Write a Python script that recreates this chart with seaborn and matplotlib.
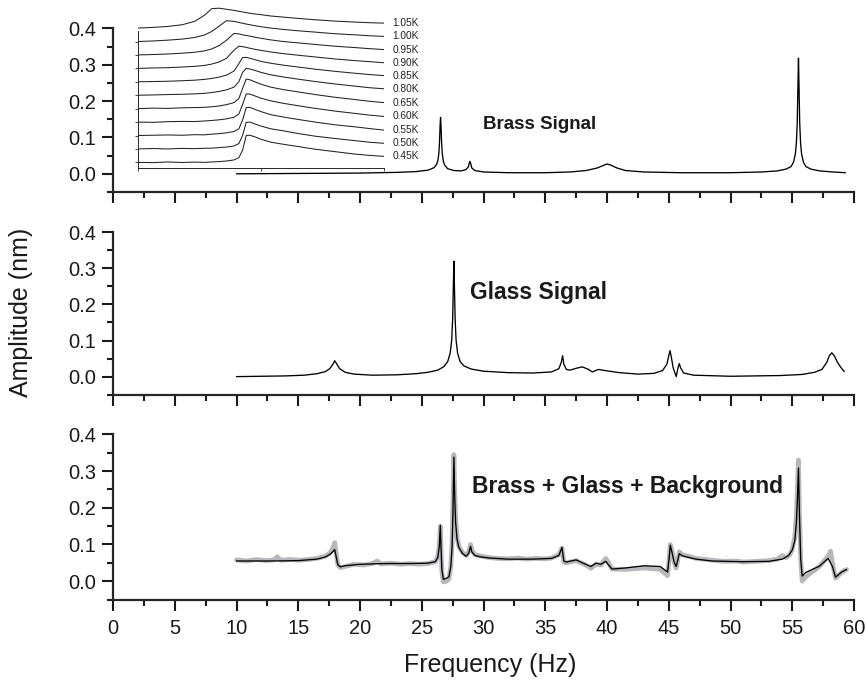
import numpy as np
import pandas as pd
import matplotlib
matplotlib.use("Agg")
import matplotlib.pyplot as plt
from matplotlib.ticker import MultipleLocator, FormatStrFormatter
import seaborn as sns

# ---------------- data ----------------
brass_freq = [10.0, 15.0, 20.0, 23.0, 24.5, 25.5, 26.0, 26.2, 26.3, 26.38, 26.44, 26.48, 26.52, 26.56,
              26.6, 26.66, 26.74, 26.85, 27.1, 27.6, 28.2, 28.6, 28.78, 28.88, 28.95, 29.05, 29.3,
              30.0, 32.0, 35.0, 37.0, 38.3, 39.2, 39.7, 40.0, 40.3, 40.8, 41.5, 43.0, 46.0, 50.0,
              52.5, 53.8, 54.5, 54.9, 55.1, 55.25, 55.33, 55.4, 55.45, 55.5, 55.55, 55.6, 55.67,
              55.75, 55.9, 56.1, 56.5, 57.2, 58.3, 59.3]
brass_amp = [0.000, 0.001, 0.002, 0.004, 0.006, 0.010, 0.017, 0.026, 0.036, 0.055, 0.090, 0.130, 0.155, 0.130,
             0.090, 0.055, 0.036, 0.024, 0.014, 0.009, 0.008, 0.012, 0.020, 0.034, 0.030, 0.016, 0.009,
             0.005, 0.003, 0.003, 0.005, 0.009, 0.016, 0.023, 0.027, 0.024, 0.016, 0.009, 0.005, 0.003, 0.003,
             0.005, 0.008, 0.013, 0.020, 0.032, 0.055, 0.085, 0.140, 0.230, 0.318, 0.230, 0.140, 0.085,
             0.055, 0.032, 0.020, 0.013, 0.008, 0.005, 0.003]

glass_freq = [10.0, 14.0, 15.5, 16.5, 17.2, 17.55, 17.8, 17.95, 18.1, 18.35, 18.8, 19.5, 21.0, 23.0,
              24.5, 25.5, 26.3, 26.8, 27.1, 27.3, 27.42, 27.5, 27.55, 27.6, 27.65, 27.7, 27.78, 27.9,
              28.1, 28.4, 29.0, 30.0, 32.0, 34.0, 35.5, 36.1, 36.3, 36.4, 36.5, 36.7, 37.0, 37.6,
              38.0, 38.5, 38.8, 39.3, 40.0, 41.0, 42.5, 43.8, 44.5, 44.85, 45.0, 45.1, 45.2, 45.35,
              45.6, 45.75, 45.85, 45.95, 46.2, 47.0, 50.0, 54.0, 55.8, 56.8, 57.4, 57.8, 58.0, 58.2,
              58.4, 58.65, 58.9, 59.2]
glass_amp = [0.000, 0.002, 0.004, 0.008, 0.014, 0.022, 0.034, 0.044, 0.036, 0.022, 0.012, 0.007, 0.004, 0.005,
             0.008, 0.012, 0.018, 0.028, 0.042, 0.065, 0.100, 0.160, 0.240, 0.320, 0.240, 0.160, 0.100, 0.065,
             0.042, 0.030, 0.021, 0.015, 0.011, 0.010, 0.013, 0.022, 0.040, 0.058, 0.035, 0.020, 0.018, 0.024,
             0.027, 0.020, 0.013, 0.020, 0.016, 0.011, 0.007, 0.009, 0.017, 0.035, 0.058, 0.072, 0.055, 0.025,
             0.000, 0.025, 0.036, 0.025, 0.010, 0.004, 0.001, 0.003, 0.006, 0.012, 0.020, 0.040, 0.058, 0.066,
             0.058, 0.040, 0.027, 0.014]

fit_freq = [10.0, 13.0, 15.0, 16.5, 17.2, 17.6, 17.85, 17.95, 18.05, 18.2, 18.4, 18.8, 20.0, 22.0,
            24.0, 25.5, 26.1, 26.3, 26.42, 26.5, 26.56, 26.63, 26.75, 27.0, 27.2, 27.35, 27.45, 27.52,
            27.6, 27.66, 27.74, 27.85, 28.0, 28.3, 28.6, 28.8, 28.95, 29.05, 29.3, 29.8, 30.5, 32.0,
            34.0, 35.5, 36.1, 36.35, 36.5, 36.7, 37.5, 38.4, 38.7, 39.1, 39.5, 39.9, 40.1, 40.4,
            41.5, 43.0, 44.3, 44.9, 45.05, 45.12, 45.25, 45.45, 45.6, 45.85, 46.1, 47.2, 48.5, 51.0,
            53.1, 54.2, 54.7, 55.0, 55.2, 55.33, 55.42, 55.5, 55.58, 55.68, 55.8, 56.1, 57.2, 57.9,
            58.25, 58.5, 59.0, 59.4]
fit_amp = [0.055, 0.055, 0.056, 0.060, 0.066, 0.074, 0.082, 0.086, 0.070, 0.045, 0.039, 0.042, 0.046, 0.048,
           0.048, 0.049, 0.053, 0.065, 0.095, 0.152, 0.090, 0.030, 0.005, 0.008, 0.012, 0.040, 0.090, 0.180,
           0.338, 0.240, 0.160, 0.115, 0.092, 0.075, 0.068, 0.076, 0.095, 0.080, 0.070, 0.066, 0.063, 0.060,
           0.060, 0.062, 0.070, 0.092, 0.055, 0.052, 0.058, 0.044, 0.040, 0.049, 0.046, 0.054, 0.045, 0.033,
           0.036, 0.042, 0.040, 0.025, 0.070, 0.098, 0.080, 0.050, 0.040, 0.075, 0.069, 0.060, 0.055, 0.053,
           0.054, 0.060, 0.070, 0.085, 0.110, 0.160, 0.230, 0.308, 0.180, 0.060, 0.014, 0.024, 0.041, 0.062,
           0.040, 0.011, 0.025, 0.032]

meas_freq = [10.0, 10.8, 11.6, 12.4, 13.0, 13.3, 13.6, 14.4, 15.2, 16.0, 16.5, 17.2, 17.6, 17.85,
             17.95, 18.05, 18.2, 18.4, 18.8, 19.5, 20.3, 21.0, 21.4, 21.7, 22.5, 23.3, 24.0, 24.8,
             25.5, 26.1, 26.3, 26.42, 26.5, 26.56, 26.63, 26.75, 27.0, 27.2, 27.35, 27.45, 27.52, 27.6,
             27.66, 27.74, 27.85, 28.0, 28.3, 28.6, 28.8, 28.95, 29.05, 29.3, 29.8, 30.5, 31.2, 32.0,
             32.8, 33.5, 34.2, 35.0, 35.5, 36.1, 36.35, 36.5, 36.7, 37.5, 38.4, 38.7, 39.1, 39.5,
             39.9, 40.1, 40.4, 41.5, 43.0, 44.3, 44.9, 45.05, 45.12, 45.25, 45.45, 45.6, 45.85, 46.1,
             46.8, 47.2, 48.0, 48.5, 49.5, 50.5, 51.0, 52.0, 53.1, 53.8, 54.2, 54.5, 54.8, 55.0,
             55.2, 55.33, 55.42, 55.5, 55.58, 55.68, 55.8, 56.1, 57.2, 57.9, 58.1, 58.25, 58.5, 59.0,
             59.4]
meas_amp = [0.058, 0.055, 0.059, 0.056, 0.058, 0.066, 0.057, 0.059, 0.057, 0.060, 0.062, 0.068, 0.078, 0.095,
            0.105, 0.080, 0.045, 0.037, 0.040, 0.046, 0.044, 0.048, 0.055, 0.047, 0.049, 0.046, 0.048, 0.046,
            0.048, 0.053, 0.068, 0.100, 0.150, 0.090, 0.025, -0.002, 0.000, 0.006, 0.040, 0.100, 0.200, 0.345,
            0.260, 0.170, 0.120, 0.095, 0.078, 0.070, 0.080, 0.100, 0.085, 0.072, 0.068, 0.064, 0.062, 0.061,
            0.063, 0.060, 0.062, 0.061, 0.063, 0.072, 0.090, 0.052, 0.050, 0.056, 0.042, 0.035, 0.046, 0.044,
            0.062, 0.052, 0.033, 0.032, 0.036, 0.032, 0.015, 0.070, 0.100, 0.085, 0.050, 0.036, 0.080, 0.072,
            0.066, 0.062, 0.059, 0.057, 0.054, 0.055, 0.052, 0.054, 0.056, 0.060, 0.070, 0.064, 0.072, 0.088,
            0.120, 0.180, 0.260, 0.330, 0.190, 0.060, 0.000, 0.012, 0.040, 0.068, 0.082, 0.050, 0.008, 0.024,
            0.032]

# inset: temperature series (x in arbitrary inset units, rise above each trace's own baseline)
inset_x = [0.0, 0.6, 1.2, 1.8, 2.3, 2.7, 3.0, 3.3, 3.6, 3.9, 4.1, 4.25, 4.4, 4.55, 4.75, 5.0,
           5.4, 5.9, 6.5, 7.2, 8.0, 8.8, 9.4, 10.0]
inset_labels = ["0.45K", "0.50K", "0.55K", "0.60K", "0.65K", "0.80K",
                "0.85K", "0.90K", "0.95K", "1.00K", "1.05K"]
rise_045 = [0, -0.02, 0.03, -0.01, 0.02, 0.0, 0.03, 0.06, 0.10, 0.18, 0.35, 0.90, 2.00, 2.02, 1.90, 1.72,
            1.50, 1.35, 1.18, 0.98, 0.80, 0.62, 0.52, 0.45]
rise_050 = [0, 0.03, 0.0, 0.04, 0.02, 0.05, 0.06, 0.10, 0.14, 0.22, 0.40, 1.00, 1.98, 2.00, 1.86, 1.70,
            1.50, 1.35, 1.15, 0.95, 0.78, 0.62, 0.50, 0.42]
rise_055 = [0, 0.02, 0.04, 0.02, 0.06, 0.05, 0.10, 0.14, 0.20, 0.30, 0.50, 1.15, 2.08, 2.10, 1.95, 1.78,
            1.55, 1.38, 1.20, 1.00, 0.80, 0.65, 0.52, 0.40]
rise_060 = [0, -0.02, 0.03, 0.05, 0.04, 0.08, 0.12, 0.17, 0.24, 0.36, 0.60, 1.30, 2.10, 2.08, 1.95, 1.78,
            1.58, 1.40, 1.22, 1.02, 0.82, 0.65, 0.52, 0.42]
rise_065 = [0, 0.04, 0.02, 0.06, 0.08, 0.10, 0.14, 0.20, 0.30, 0.45, 0.75, 1.50, 2.20, 2.15, 2.00, 1.82,
            1.60, 1.42, 1.25, 1.05, 0.85, 0.68, 0.55, 0.45]
rise_080 = [0, 0.02, 0.05, 0.07, 0.10, 0.14, 0.20, 0.28, 0.40, 0.60, 1.00, 1.70, 2.00, 1.95, 1.85, 1.70,
            1.52, 1.36, 1.20, 1.02, 0.84, 0.68, 0.56, 0.48]
rise_085 = [0, 0.02, 0.04, 0.08, 0.12, 0.18, 0.25, 0.35, 0.50, 0.80, 1.35, 1.80, 1.82, 1.75, 1.65, 1.52,
            1.38, 1.24, 1.10, 0.94, 0.78, 0.64, 0.54, 0.46]
rise_090 = [0, 0.03, 0.05, 0.10, 0.15, 0.22, 0.32, 0.48, 0.75, 1.35, 1.65, 1.62, 1.56, 1.50, 1.42, 1.34,
            1.22, 1.10, 0.98, 0.85, 0.70, 0.58, 0.50, 0.42]
rise_095 = [0, 0.03, 0.07, 0.13, 0.20, 0.30, 0.45, 0.70, 1.10, 1.60, 1.57, 1.50, 1.45, 1.40, 1.32, 1.24,
            1.12, 1.00, 0.90, 0.78, 0.65, 0.55, 0.47, 0.40]
rise_100 = [0, 0.04, 0.10, 0.18, 0.30, 0.48, 0.75, 1.15, 1.55, 1.50, 1.42, 1.36, 1.30, 1.25, 1.18, 1.10,
            1.00, 0.90, 0.80, 0.70, 0.58, 0.50, 0.43, 0.38]
rise_105 = [0, 0.05, 0.12, 0.25, 0.50, 0.95, 1.45, 1.48, 1.40, 1.32, 1.25, 1.20, 1.15, 1.10, 1.05, 1.00,
            0.90, 0.82, 0.72, 0.62, 0.52, 0.45, 0.40, 0.37]
inset_rises = [rise_045, rise_050, rise_055, rise_060, rise_065, rise_080,
               rise_085, rise_090, rise_095, rise_100, rise_105]

x_major = [0, 5, 10, 15, 20, 25, 30, 35, 40, 45, 50, 55, 60]

# ---------------- style ----------------
sns.set_style("ticks")
plt.rcParams['font.family'] = ['Liberation Sans', 'DejaVu Sans']
plt.rcParams['axes.linewidth'] = 1.6

fig = plt.figure(figsize=(8.66, 6.84), dpi=100)
positions = [(0.1305, 0.7193, 0.8557, 0.2393),
             (0.1305, 0.4230, 0.8557, 0.2374),
             (0.1305, 0.1235, 0.8557, 0.2415)]
axes = [fig.add_axes(p) for p in positions]

df_brass = pd.DataFrame({"f": brass_freq, "a": brass_amp})
df_glass = pd.DataFrame({"f": glass_freq, "a": glass_amp})
df_fit = pd.DataFrame({"f": fit_freq, "a": fit_amp})
df_meas = pd.DataFrame({"f": meas_freq, "a": meas_amp})

sns.lineplot(data=df_brass, x="f", y="a", ax=axes[0], color="black", lw=0.95, estimator=None)
sns.lineplot(data=df_glass, x="f", y="a", ax=axes[1], color="black", lw=0.95, estimator=None)
sns.lineplot(data=df_meas, x="f", y="a", ax=axes[2], color="#b8b8bc", lw=3.4, estimator=None,
             solid_capstyle="round", solid_joinstyle="round")
sns.lineplot(data=df_fit, x="f", y="a", ax=axes[2], color="black", lw=0.95, estimator=None)

for i, ax in enumerate(axes):
    ax.set_xlim(0, 60)
    ax.set_ylim(-0.05, 0.4)
    ax.set_facecolor("none")
    sns.despine(ax=ax)
    ax.spines['left'].set_bounds(-0.05, 0.4)
    ax.xaxis.set_major_locator(MultipleLocator(5))
    ax.xaxis.set_minor_locator(MultipleLocator(2.5))
    ax.yaxis.set_major_locator(MultipleLocator(0.1))
    ax.yaxis.set_minor_locator(MultipleLocator(0.05))
    ax.set_yticks([0.0, 0.1, 0.2, 0.3, 0.4])
    ax.yaxis.set_major_formatter(FormatStrFormatter('%.1f'))
    ax.tick_params(which='major', direction='out', length=8, width=1.5, labelsize=14.5,
                   colors='#1a1a1a', pad=4)
    ax.tick_params(which='minor', direction='out', length=4.5, width=1.5, colors='#1a1a1a')
    ax.set_xlabel("")
    ax.set_ylabel("")
    if i < 2:
        ax.tick_params(axis='x', labelbottom=False)
    else:
        ax.set_xticks(x_major)
        ax.tick_params(axis='x', pad=6)

axes[0].text(29.95, 0.135, "Brass Signal", fontsize=13.5, fontweight='bold', va='center', ha='left',
             color='#1a1a1a')
axes[1].text(28.9, 0.233, "Glass Signal", fontsize=16.5, fontweight='bold', va='center', ha='left',
             color='#1a1a1a')
axes[2].text(29.05, 0.258, "Brass + Glass + Background", fontsize=16.5, fontweight='bold',
             va='center', ha='left', color='#1a1a1a')

fig.text(21 / 866, 1 - 312 / 684, "Amplitude (nm)", rotation=90, fontsize=18, va='center',
         ha='center', color='#1a1a1a')
fig.text(490 / 866, 1 - 665 / 684, "Frequency (Hz)", fontsize=18, va='center', ha='center',
         color='#1a1a1a')

# ---------------- inset ----------------
ins = fig.add_axes((138 / 866, 1 - 168 / 684, 246 / 866, 161.4 / 684))
ins.set_facecolor("none")
frames = []
for k, (lab, rise) in enumerate(zip(inset_labels, inset_rises)):
    frames.append(pd.DataFrame({"x": inset_x, "y": [k + r for r in rise], "T": lab}))
df_ins = pd.concat(frames, ignore_index=True)
sns.lineplot(data=df_ins, x="x", y="y", units="T", estimator=None, color="#222222", lw=0.75,
             ax=ins, legend=False)
for k, lab in enumerate(inset_labels):
    ins.text(10.35, k + inset_rises[k][-1], lab, fontsize=7.3, va='center', ha='left', color='#222222')
ins.set_xlim(0, 10)
ins.set_ylim(-0.42, 11.6)
sns.despine(ax=ins)
ins.spines['left'].set_bounds(-0.42, 9.75)
ins.spines['left'].set_linewidth(0.7)
ins.spines['bottom'].set_linewidth(0.7)
ins.set_xticks([0, 5, 10])
ins.set_yticks(list(range(10)))
ins.tick_params(direction='out', length=2.5, width=0.6, labelleft=False, labelbottom=False)
ins.set_xlabel("")
ins.set_ylabel("")

fig.savefig("out.png", dpi=100)
